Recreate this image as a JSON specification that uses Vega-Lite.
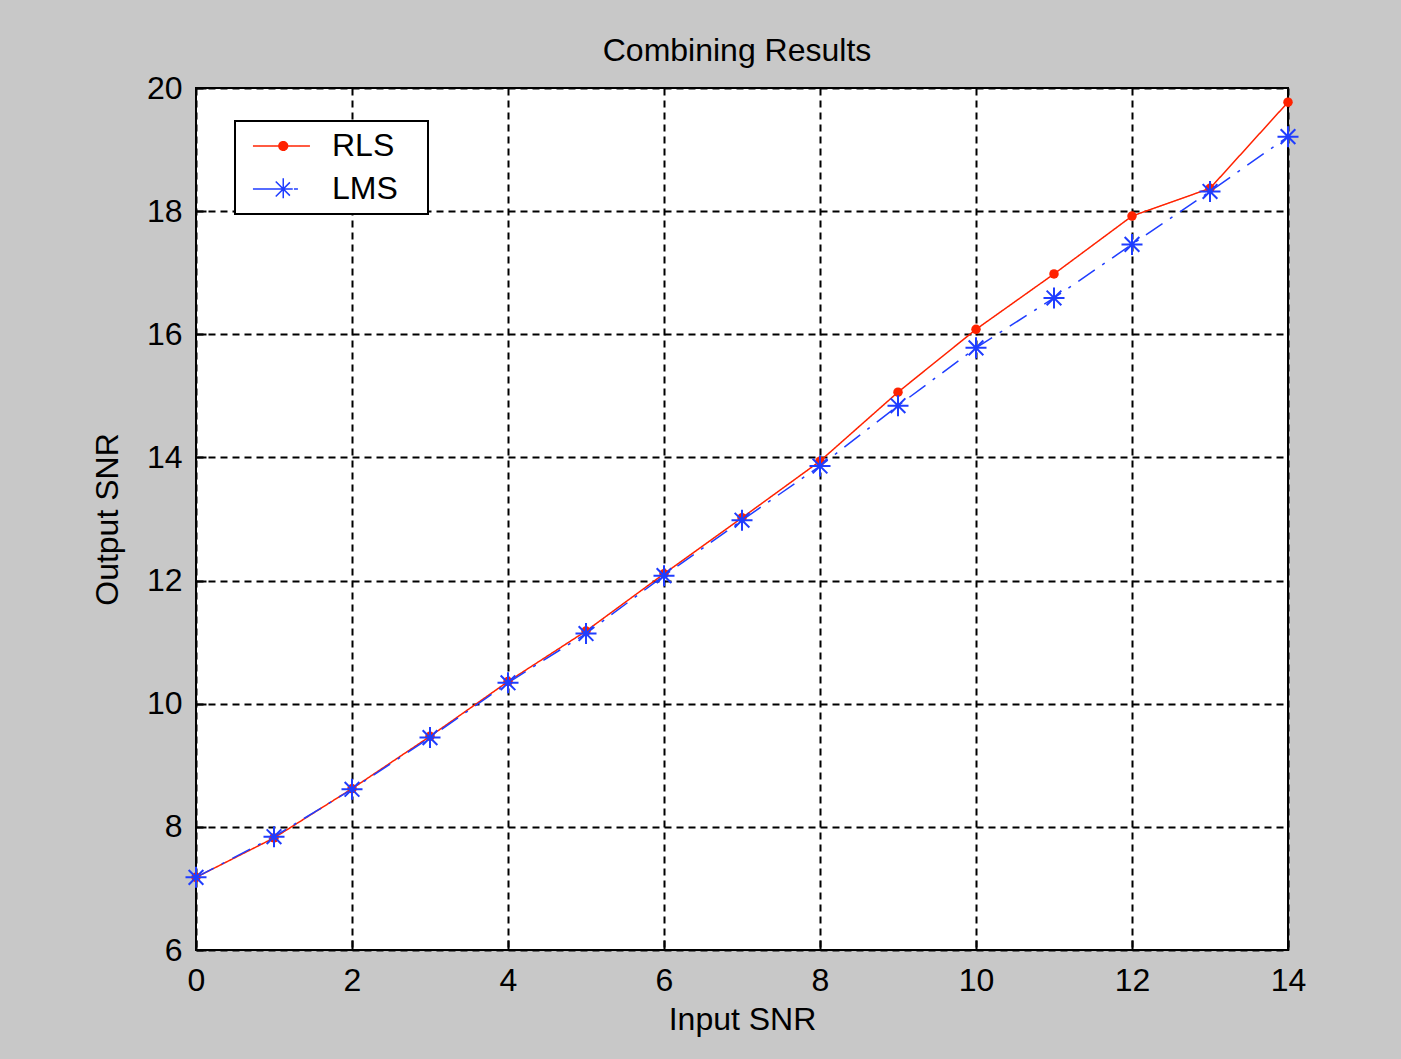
{
  "$schema": "https://vega.github.io/schema/vega-lite/v6.json",
  "autosize": "none",
  "width": 1092,
  "height": 862,
  "padding": {"left": 196, "top": 88, "right": 113, "bottom": 109},
  "background": "#c8c8c8",
  "title": {"text": "Combining Results", "font": "Liberation Sans", "fontSize": 32, "fontWeight": "normal", "color": "black", "offset": 4, "dx": -5},
  "config": {
    "view": {"stroke": "black", "strokeWidth": 2, "fill": "white"},
    "axis": {
      "domain": false,
      "grid": true, "gridColor": "black", "gridDash": [7, 5], "gridWidth": 2, "gridOpacity": 1,
      "ticks": true, "tickSize": -10, "tickColor": "black", "tickWidth": 2,
      "labelFont": "Liberation Sans", "labelFontSize": 32, "labelColor": "black",
      "titleFont": "Liberation Sans", "titleFontSize": 32, "titleFontWeight": "normal", "titleColor": "black"
    }
  },
  "data": {"values": [
    {"x": 0, "snr": 7.18, "series": "RLS"},
    {"x": 1, "snr": 7.82, "series": "RLS"},
    {"x": 2, "snr": 8.62, "series": "RLS"},
    {"x": 3, "snr": 9.47, "series": "RLS"},
    {"x": 4, "snr": 10.36, "series": "RLS"},
    {"x": 5, "snr": 11.18, "series": "RLS"},
    {"x": 6, "snr": 12.11, "series": "RLS"},
    {"x": 7, "snr": 13.02, "series": "RLS"},
    {"x": 8, "snr": 13.94, "series": "RLS"},
    {"x": 9, "snr": 15.06, "series": "RLS"},
    {"x": 10, "snr": 16.08, "series": "RLS"},
    {"x": 11, "snr": 16.98, "series": "RLS"},
    {"x": 12, "snr": 17.92, "series": "RLS"},
    {"x": 13, "snr": 18.37, "series": "RLS"},
    {"x": 14, "snr": 19.77, "series": "RLS"},
    {"x": 0, "snr": 7.18, "series": "LMS"},
    {"x": 1, "snr": 7.84, "series": "LMS"},
    {"x": 2, "snr": 8.61, "series": "LMS"},
    {"x": 3, "snr": 9.45, "series": "LMS"},
    {"x": 4, "snr": 10.34, "series": "LMS"},
    {"x": 5, "snr": 11.14, "series": "LMS"},
    {"x": 6, "snr": 12.08, "series": "LMS"},
    {"x": 7, "snr": 12.98, "series": "LMS"},
    {"x": 8, "snr": 13.86, "series": "LMS"},
    {"x": 9, "snr": 14.84, "series": "LMS"},
    {"x": 10, "snr": 15.78, "series": "LMS"},
    {"x": 11, "snr": 16.59, "series": "LMS"},
    {"x": 12, "snr": 17.46, "series": "LMS"},
    {"x": 13, "snr": 18.32, "series": "LMS"},
    {"x": 14, "snr": 19.21, "series": "LMS"}
  ]},
  "encoding": {
    "x": {"field": "x", "type": "quantitative", "title": "Input SNR",
      "scale": {"domain": [0, 14], "nice": false, "zero": false},
      "axis": {"values": [0, 2, 4, 6, 8, 10, 12, 14], "labelPadding": 25, "titlePadding": 8, "labelFlush": false}},
    "y": {"field": "snr", "type": "quantitative", "title": "Output SNR",
      "scale": {"domain": [6, 20], "nice": false, "zero": false},
      "axis": {"values": [6, 8, 10, 12, 14, 16, 18, 20], "labelPadding": 24, "titlePadding": 22}}
  },
  "layer": [
    {
      "mark": {"type": "line", "strokeWidth": 1.5},
      "encoding": {
        "color": {"field": "series", "type": "nominal",
          "scale": {"domain": ["RLS", "LMS"], "range": ["#ff2200", "#1f3dff"]},
          "legend": {
            "orient": "none", "legendX": 39, "legendY": 33, "title": null,
            "strokeColor": "black", "fillColor": "white",
            "padding": 9, "rowPadding": 11, "labelOffset": 56,
            "labelFont": "Liberation Sans", "labelFontSize": 32, "labelColor": "black",
            "symbolSize": 900, "symbolStrokeWidth": 1.5,
            "encode": {
              "symbols": {"update": {
                "shape": {"signal": "datum.value === 'RLS' ? 'M-0.47,0H3.33M1.84,0A0.29,0.29,0,1,1,1.26,0A0.29,0.29,0,1,1,1.84,0ZM10.4,0' : 'M-0.47,0H2.53M0.85,0H2.25M1.55,-0.72V0.72M1.05,-0.5L2.05,0.5M1.05,0.5L2.05,-0.5M10.4,0'"},
                "fill": {"signal": "datum.value === 'RLS' ? '#ff2200' : 'transparent'"},
                "size": {"value": 900},
                "strokeWidth": {"value": 1.5},
                "strokeDash": {"value": [1, 0]},
                "opacity": {"value": 1}
              }},
              "legend": {"update": {"strokeWidth": {"value": 2}}}
            }
          }},
        "strokeDash": {"field": "series", "type": "nominal",
          "scale": {"domain": ["RLS", "LMS"], "range": [[1, 0], [20, 9, 3, 9]]},
          "legend": null},
        "order": {"field": "x", "type": "quantitative"}
      }
    },
    {
      "transform": [{"filter": "datum.series === 'RLS'"}],
      "mark": {"type": "point", "shape": "circle", "filled": true, "size": 90, "color": "#ff2200", "opacity": 1}
    },
    {
      "transform": [{"filter": "datum.series === 'LMS'"}],
      "mark": {"type": "point", "shape": "M-1,0H1M0,-1V1M-0.7,-0.7L0.7,0.7M-0.7,0.7L0.7,-0.7", "filled": false, "size": 441, "strokeWidth": 2, "color": "#1f3dff", "opacity": 1}
    }
  ]
}
